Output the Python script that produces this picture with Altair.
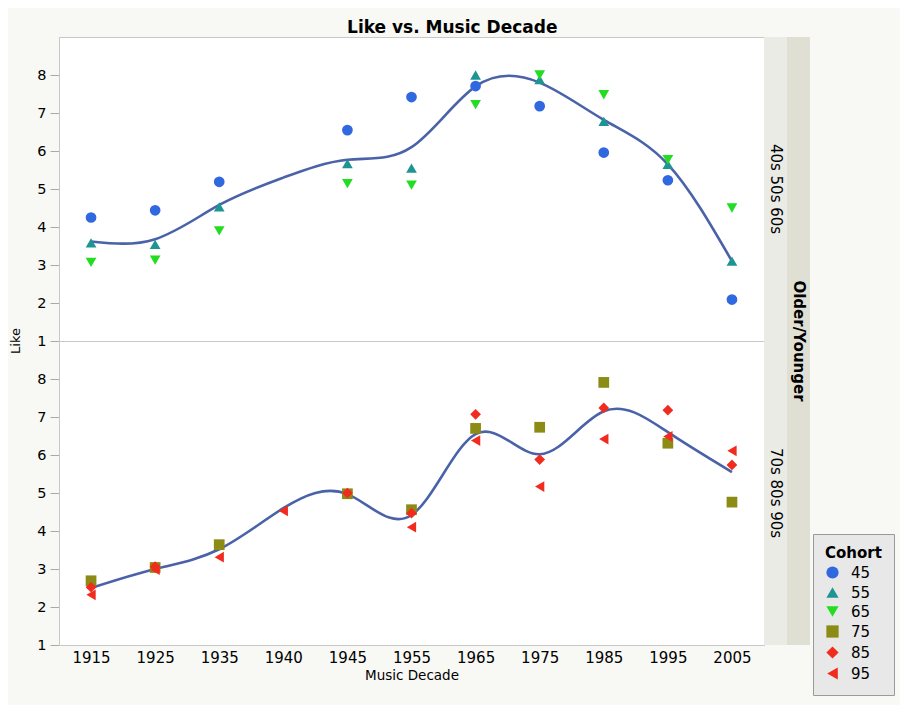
import altair as alt
import pandas as pd

decades = ["1915", "1925", "1935", "1940", "1945", "1955", "1965", "1975", "1985", "1995", "2005"]
groups = ["40s 50s 60s", "70s 80s 90s"]
cohorts = ["45", "55", "65", "75", "85", "95"]

# Like values per cohort (None = no marker drawn)
like_45 = [4.25, 4.44, 5.19, None, 6.55, 7.42, 7.71, 7.18, 5.96, 5.23, 2.09]
like_55 = [3.58, 3.54, 4.53, None, 5.67, 5.55, 8.00, 7.88, 6.78, 5.65, 3.10]
like_65 = [3.07, 3.13, 3.90, None, 5.14, 5.10, 7.22, 8.00, 7.48, 5.77, 4.50]
like_75 = [2.69, 3.04, 3.64, None, 4.98, 4.56, 6.70, 6.73, 7.91, 6.31, 4.76]
like_85 = [2.52, 3.06, None, None, 5.00, 4.47, 7.07, 5.88, 7.24, 7.18, 5.74]
like_95 = [2.32, 2.98, 3.31, 4.53, None, 4.10, 6.38, 5.17, 6.42, 6.49, 6.11]

# smoother values per decade
fit_older = [3.62, 3.68, 4.58, 5.30, 5.77, 6.10, 7.70, 7.80, 6.82, 5.65, 3.10]
fit_younger = [2.50, 3.00, 3.52, 4.60, 4.97, 4.42, 6.55, 6.02, 7.15, 6.60, 5.55]

colors = ["#3068e0", "#1f9593", "#22dd22", "#8b8b15", "#f22b1f", "#f22b1f"]
shapes = ["circle", "triangle-up", "triangle-down", "square", "diamond", "triangle-left"]

series = dict(zip(cohorts, [like_45, like_55, like_65, like_75, like_85, like_95]))
rows = []
for c, vals in series.items():
    g = groups[0] if c in ("45", "55", "65") else groups[1]
    for d, v in zip(decades, vals):
        if v is not None:
            rows.append({"kind": "pt", "decade": d, "like": v, "cohort": c, "group": g})
for g, vals in zip(groups, [fit_older, fit_younger]):
    for d, v in zip(decades, vals):
        rows.append({"kind": "fit", "decade": d, "like": v, "cohort": "fit", "group": g})
df = pd.DataFrame(rows)

W, H = 705, 304
FONT = "DejaVu Sans"

x_enc = alt.X("decade:O", sort=decades, title="Music Decade",
              axis=alt.Axis(labelAngle=0, ticks=False, labelPadding=5, titlePadding=3,
                            labelFontSize=15, titleFontSize=13.5, titleFontWeight="normal"))
y_enc = alt.Y("like:Q", title=None, scale=alt.Scale(domain=[1, 9], nice=False, zero=False),
              axis=alt.Axis(values=[1, 2, 3, 4, 5, 6, 7, 8], tickSize=9, labelPadding=4,
                            labelFontSize=14.5))

one_per_group = (alt.datum.kind == "fit") & (alt.datum.decade == "1915")

strip_inner = alt.Chart().mark_rect(color="#ebebe6").encode(
    x=alt.value(W), x2=alt.value(W + 23), y=alt.value(0), y2=alt.value(H)
).transform_filter(one_per_group)

strip_outer = alt.Chart().mark_rect(color="#e0dfd4").encode(
    x=alt.value(W + 23), x2=alt.value(W + 46), y=alt.value(0), y2=alt.value(H)
).transform_filter(one_per_group)

line = alt.Chart().mark_line(interpolate="natural", color="#4a62a8", strokeWidth=2.6).encode(
    x=x_enc, y=y_enc
).transform_filter(alt.datum.kind == "fit")

points = alt.Chart().mark_point(filled=True, size=115, opacity=1).encode(
    x=x_enc, y=y_enc,
    shape=alt.Shape("cohort:N", scale=alt.Scale(domain=cohorts, range=shapes), title="Cohort"),
    color=alt.Color("cohort:N", scale=alt.Scale(domain=cohorts, range=colors), title="Cohort",
                    legend=alt.Legend(orient="none", legendX=754, legendY=497,
                                      fillColor="#e8e8e8", strokeColor="#9a9a9a",
                                      padding=12, titleFontSize=15, labelFontSize=15,
                                      symbolSize=150, rowPadding=2, titlePadding=4,
                                      labelOffset=11, symbolOpacity=1)),
).transform_filter(alt.datum.kind == "pt")

strip_text = alt.Chart().mark_text(angle=90, fontSize=15, align="center", baseline="middle",
                                   font=FONT, color="#000").encode(
    x=alt.value(W + 11.5), y=alt.value(H / 2), text="group:N"
).transform_filter(one_per_group)

outer_text = alt.Chart().mark_text(angle=90, fontSize=15, fontWeight="bold", align="center",
                                   baseline="middle", font=FONT, color="#000").encode(
    x=alt.value(W + 34.5), y=alt.value(0), text=alt.value("Older/Younger")
).transform_filter(one_per_group & (alt.datum.group == groups[1]))

layered = alt.layer(strip_inner, strip_outer, line, points, strip_text, outer_text, data=df).properties(
    width=W, height=H)

chart = layered.facet(
    row=alt.Row("group:N", sort=groups,
                header=alt.Header(labels=False, title="Like", titleFontSize=13,
                                  titleFontWeight="normal", titlePadding=3)),
    spacing=0,
    bounds="flush",
).properties(
    title=alt.TitleParams("Like vs. Music Decade", fontSize=17, fontWeight="bold",
                          anchor="middle", offset=0, color="#000")
).configure(
    font=FONT, background="#f8f8f5", padding={"left": 2, "top": 10, "right": 5, "bottom": 10}
).configure_view(
    stroke="#c8c8c8", fill="white"
).configure_axis(
    grid=False, domainColor="#aaaaaa", tickColor="#aaaaaa", labelColor="#000",
    titleColor="#000", labelFont=FONT, titleFont=FONT
).configure_legend(
    labelFont=FONT, titleFont=FONT, labelColor="#000", titleColor="#000"
).configure_header(
    titleFont=FONT, titleColor="#000"
)

chart.save("out.html", embed_options={"renderer": "svg", "actions": False})
